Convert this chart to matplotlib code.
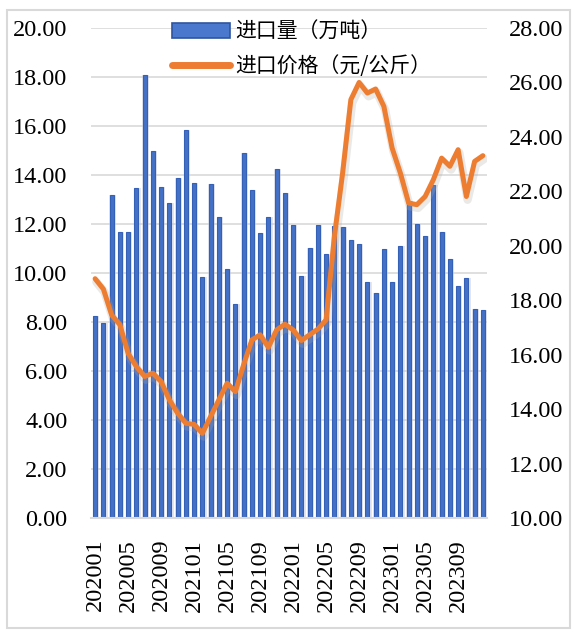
import matplotlib
matplotlib.use("Agg")
import matplotlib.pyplot as plt
from matplotlib.patches import Rectangle, Patch
from matplotlib.lines import Line2D
from matplotlib.ticker import FormatStrFormatter, MultipleLocator
import numpy as np

months = [f"{y}{m:02d}" for y in (2020, 2021, 2022, 2023) for m in range(1, 13)]

import_volume = [8.24, 7.94, 13.19, 11.69, 11.66, 13.48, 18.09, 14.99, 13.52, 12.85, 13.89, 15.83,
                 13.67, 9.84, 13.63, 12.29, 10.15, 8.73, 14.90, 13.38, 11.62, 12.28, 14.26, 13.27,
                 11.95, 9.89, 11.02, 11.96, 10.76, 11.90, 11.86, 11.34, 11.17, 9.62, 9.20, 10.97,
                 9.63, 11.12, 12.95, 11.99, 11.51, 13.60, 11.66, 10.59, 9.48, 9.78, 8.55, 8.49]

import_price = [18.79, 18.41, 17.46, 17.10, 16.05, 15.56, 15.20, 15.32, 15.01, 14.34, 13.85, 13.48,
                13.44, 13.11, 13.73, 14.34, 14.95, 14.64, 15.63, 16.54, 16.73, 16.27, 16.91, 17.12,
                16.91, 16.52, 16.73, 16.94, 17.28, 20.34, 22.67, 25.37, 26.00, 25.61, 25.76, 25.12,
                23.59, 22.67, 21.57, 21.51, 21.81, 22.43, 23.22, 22.92, 23.53, 21.81, 23.10, 23.31]

label_vol = "进口量（万吨）"
label_price = "进口价格（元/公斤）"

plt.rcParams['font.family'] = ['Liberation Serif', 'Noto Sans CJK SC', 'DejaVu Sans']

W, H = 580, 640
fig = plt.figure(figsize=(W / 100, H / 100), dpi=100)

# outer border
fig.patches.append(Rectangle((7 / W, 1 - 628 / H), (570 - 7) / W, (628 - 10) / H,
                             transform=fig.transFigure, fill=False,
                             edgecolor='#d9d9d9', linewidth=1.5))

ax = fig.add_axes([91 / W, 1 - 518 / H, (487 - 91) / W, (518 - 28) / H])
ax2 = ax.twinx()

x = np.arange(len(months))
grid_c = '#d9d9d9'

# bar shadow
ax.bar(x + 0.12, import_volume, width=0.8, color='#c9cfdc', alpha=0.5, linewidth=0, zorder=1)
ax.bar(x, import_volume, width=0.48, color='#4470c6', edgecolor='#3560b8', linewidth=0.8, zorder=2)

ax.set_ylim(0, 20)
ax.set_xlim(-0.5, 47.5)
ax.yaxis.set_major_locator(MultipleLocator(2))
ax.yaxis.set_major_formatter(FormatStrFormatter('%.2f'))
ax.set_axisbelow(True)
ax.grid(axis='y', color=grid_c, linewidth=1.2, zorder=0)
ax.set_xticks(x[::4])
ax.set_xticklabels(months[::4], rotation=90)
ax.tick_params(axis='x', length=0, pad=15, labelsize=17.5)
ax.tick_params(axis='y', length=0, pad=17, labelsize=17.5)
for s in ['top', 'right', 'left']:
    ax.spines[s].set_visible(False)
ax.spines['bottom'].set_color(grid_c)
ax.spines['bottom'].set_linewidth(1.5)

# line with soft shadow
ax2.plot(x + 0.15, np.array(import_price) - 0.12, color='#b0a8a0', alpha=0.25, linewidth=6,
         solid_capstyle='round', solid_joinstyle='round', zorder=2)
ax2.plot(x, import_price, color='#ed7d31', linewidth=3.6,
         solid_capstyle='round', solid_joinstyle='round', zorder=3)
ax2.set_ylim(10, 28)
ax2.yaxis.set_major_locator(MultipleLocator(2))
ax2.yaxis.set_major_formatter(FormatStrFormatter('%.2f'))
ax2.tick_params(axis='y', length=0, pad=16, labelsize=17.5)
for s in ['top', 'right', 'left', 'bottom']:
    ax2.spines[s].set_visible(False)

handles = [Patch(facecolor='#4a78cc', edgecolor='#2f55a0', linewidth=1.2),
           Line2D([0], [0], color='#ed7d31', linewidth=5, solid_capstyle='round')]
leg = fig.legend(handles, [label_vol, label_price], loc='upper left',
                 bbox_to_anchor=(157 / W, 1 - 6 / H), frameon=False,
                 prop={'family': ['Noto Sans CJK SC', 'DejaVu Sans'], 'size': 15},
                 handlelength=2.8, handletextpad=0.25, labelspacing=0.6, borderpad=0.2)

fig.savefig('out.png', dpi=100)
